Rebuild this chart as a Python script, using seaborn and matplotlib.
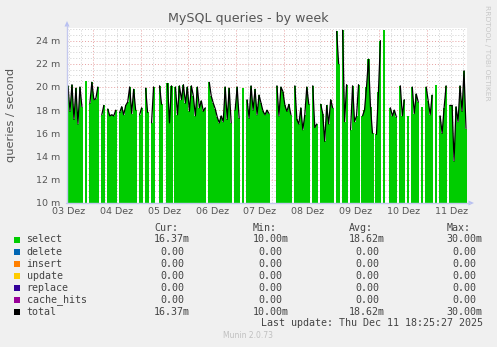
import numpy as np
import pandas as pd
import matplotlib
matplotlib.use("Agg")
import matplotlib.pyplot as plt
import seaborn as sns
from matplotlib.patches import Rectangle, Polygon
from matplotlib.lines import Line2D

nan = np.nan

# ---------------- data (hourly samples, milli-queries/second) ----------------
start_hour = 11.5  # first sample: 03 Dez 11:30
select_m = [
    20.1, 17.9, 20.2, 17.2, 19.9, 16.8, 20.0, 18.3, nan, 20.5,
    nan, 18.6, 20.4, 18.9, 19.0, 20.0, nan, 17.6, 18.4, nan,
    18.1, 17.5, 17.6, 17.5, 18.0, nan, 17.8, 18.3, 17.6, 18.4,
    18.7, 20.0, 17.7, 19.8, 18.0, nan, 17.6, 18.2, nan, 19.9,
    17.8, nan, 16.9, 20.0, nan, nan, 20.1, 18.5, nan, nan,
    20.3, 16.9, 20.1, nan, 20.0, 17.6, 20.1, 18.9, 20.2, 18.6,
    20.0, 17.9, 20.1, 19.2, 17.5, 20.0, 18.2, 18.8, 17.9, 18.2,
    nan, 20.4, 19.2, 18.6, 18.1, 17.4, 16.9, 17.5, 17.0, 20.0,
    17.2, 19.9, 16.9, nan, 18.0, 20.0, 17.3, nan, 19.9, nan,
    18.9, 17.3, 20.1, 18.0, 19.8, 17.6, 19.3, 18.6, 17.9, 17.6,
    18.0, 17.7, nan, nan, nan, 20.1, 17.5, 20.0, 19.6, 18.4,
    17.9, 18.5, 17.6, nan, 20.1, 17.2, 16.8, 18.2, 16.3, 17.6,
    20.0, 18.5, nan, 20.1, 16.5, 16.8, nan, 18.5, 17.7, 15.3,
    18.4, 16.8, 18.9, 18.2, nan, 24.8, 22.0, nan, 24.9, 17.0,
    20.2, nan, 16.3, 20.1, 17.0, 17.5, 20.2, nan, 17.5, 18.0,
    20.0, 22.4, 18.3, 16.0, nan, 15.9, 19.6, 24.0, nan, 24.9,
    nan, nan, 18.2, 17.5, 18.0, 17.4, nan, 20.1, 17.5, 18.9,
    nan, 17.5, nan, 20.0, 17.7, 19.4, 18.7, nan, 18.3, nan,
    20.0, 18.8, 17.6, 19.3, nan, 20.2, nan, 17.5, 16.0, 18.2,
    20.1, nan, 18.4, 18.4, 13.6, 18.3, 17.0, 20.1, 17.9, 21.4,
    16.4,
]
day_labels = ["03 Dez", "04 Dez", "05 Dez", "06 Dez", "07 Dez",
              "08 Dez", "09 Dez", "10 Dez", "11 Dez"]
y_ticks = [10, 12, 14, 16, 18, 20, 22, 24]
y_top = 25.12

series_names = ["select", "delete", "insert", "update", "replace", "cache_hits", "total"]
series_colors = ["#00CC00", "#0066B3", "#FF8000", "#FFCC00", "#330099", "#990099", "#000000"]
cur_vals = ["16.37m", "0.00", "0.00", "0.00", "0.00", "0.00", "16.37m"]
min_vals = ["10.00m", "0.00", "0.00", "0.00", "0.00", "0.00", "10.00m"]
avg_vals = ["18.62m", "0.00", "0.00", "0.00", "0.00", "0.00", "18.62m"]
max_vals = ["30.00m", "0.00", "0.00", "0.00", "0.00", "0.00", "30.00m"]
col_heads = ["Cur:", "Min:", "Avg:", "Max:"]
last_update = "Last update: Thu Dec 11 18:25:27 2025"

# ---------------- figure ----------------
W, H = 497, 347
sns.set_style("white")
plt.rcParams["font.family"] = ["DejaVu Sans"]
fig = plt.figure(figsize=(W / 100, H / 100), dpi=100, facecolor="#F0F0F0")


def fx(x):
    return x / W


def fy(y):
    return 1 - y / H


ax_l, ax_r, ax_t, ax_b = 67, 467, 27.7, 202.7
ax = fig.add_axes([fx(ax_l), fy(ax_b), (ax_r - ax_l) / W, (ax_b - ax_t) / H])
ax.set_facecolor("white")

t = (start_hour + np.arange(len(select_m))) / 24.0
df = pd.DataFrame({"t": t, "select": select_m})
df["total"] = df["select"]
df["seg"] = df["select"].isna().cumsum()
valid = df.dropna()

# grid
minor_c, major_c = "#d0d0d0", "#e6a0a0"
dots = (0, (1, 2))
for v in np.arange(10, 25.2, 0.5):
    if abs(v / 2 - round(v / 2)) < 1e-6:
        ax.axhline(v, color=major_c, lw=0.7, ls=dots, zorder=0)
    else:
        ax.axhline(v, color=minor_c, lw=0.7, ls=dots, zorder=0)
for d in np.arange(0, 9.01, 0.25):
    if abs(d - round(d)) < 1e-6:
        ax.axvline(d, color=major_c, lw=0.7, ls=dots, zorder=0)
    else:
        ax.axvline(d, color=minor_c, lw=0.7, ls=dots, zorder=0)

# area + total line
ax.bar(valid["t"], valid["select"] - 10, bottom=10, width=1.04 / 24,
       color="#00CC00", linewidth=0, zorder=2)
sns.lineplot(data=valid, x="t", y="total", units="seg", estimator=None,
             color="black", linewidth=0.9, ax=ax, legend=False, zorder=3)

ax.set_xlim(t[0] - 0.5 / 24, t[-1] + 0.5 / 24)
ax.set_ylim(10, y_top)
ax.set_xticks(np.arange(len(day_labels)) + 0.5)
ax.set_xticklabels(day_labels)
ax.set_yticks(y_ticks)
ax.set_yticklabels([f"{v} m" for v in y_ticks])
ax.tick_params(axis="both", length=0, labelsize=6.8, colors="#555555")
ax.tick_params(axis="y", pad=5)
ax.tick_params(axis="x", pad=3.4)
ax.set_xlabel("")
ax.set_ylabel("")
for s in ax.spines.values():
    s.set_visible(False)

# axis lines with arrows
axis_c = "#c4c8ee"
fig.add_artist(Line2D([fx(67), fx(67)], [fy(203), fy(25)], color=axis_c, lw=1))
fig.add_artist(Line2D([fx(66), fx(470)], [fy(203), fy(203)], color=axis_c, lw=1))
fig.add_artist(Polygon([(fx(64.5), fy(26.5)), (fx(69.5), fy(26.5)), (fx(67), fy(21))],
                       closed=True, color="#b8c0f2", lw=0))
fig.add_artist(Polygon([(fx(468.5), fy(200.5)), (fx(468.5), fy(205.5)), (fx(474), fy(203))],
                       closed=True, color="#b8c0f2", lw=0))

# texts
fig.text(fx(248.5), fy(18.5), "MySQL queries - by week", ha="center", va="center",
         fontsize=9.1, color="#555555")
fig.text(fx(10.7), fy(115), "queries / second", rotation=90, ha="center", va="center",
         fontsize=8.2, color="#555555")
fig.text(fx(487), fy(53), "RRDTOOL / TOBI OETIKER", rotation=270, ha="center", va="center",
         fontsize=5.4, color="#c8c8c8")

mono = "DejaVu Sans Mono"
lfs = 7.2
txt_c = "#444444"
cw = 6.0
cols_right = [190, 288.3, 385, 482.7]
fig.text(0, 0, "")
for head, cx in zip(col_heads, cols_right):
    fig.text(fx(cx - 2 * cw), fy(228.3), head, ha="right", va="center",
             family=mono, fontsize=lfs, color=txt_c)
row_y = [239.5, 251.6, 263.7, 275.8, 287.8, 299.6, 311.7]
for i, name in enumerate(series_names):
    yy = row_y[i]
    fig.add_artist(Rectangle((fx(14), fy(yy + 3)), 6 / W, 6 / H,
                             facecolor=series_colors[i], edgecolor="none"))
    fig.text(fx(26.5), fy(yy), name, ha="left", va="center",
             family=mono, fontsize=lfs, color=txt_c)
    for vals, cx in zip([cur_vals, min_vals, avg_vals, max_vals], cols_right):
        s = vals[i]
        x_r = cx if s.endswith("m") else cx - cw
        fig.text(fx(x_r), fy(yy), s, ha="right", va="center",
                 family=mono, fontsize=lfs, color=txt_c)
fig.text(fx(482.7), fy(323.5), last_update, ha="right", va="center",
         family=mono, fontsize=lfs, color=txt_c)
fig.text(fx(248), fy(335.7), "Munin 2.0.73", ha="center", va="center",
         fontsize=5.5, color="#c0c0c0")

fig.savefig("out.png", dpi=100, facecolor=fig.get_facecolor())
